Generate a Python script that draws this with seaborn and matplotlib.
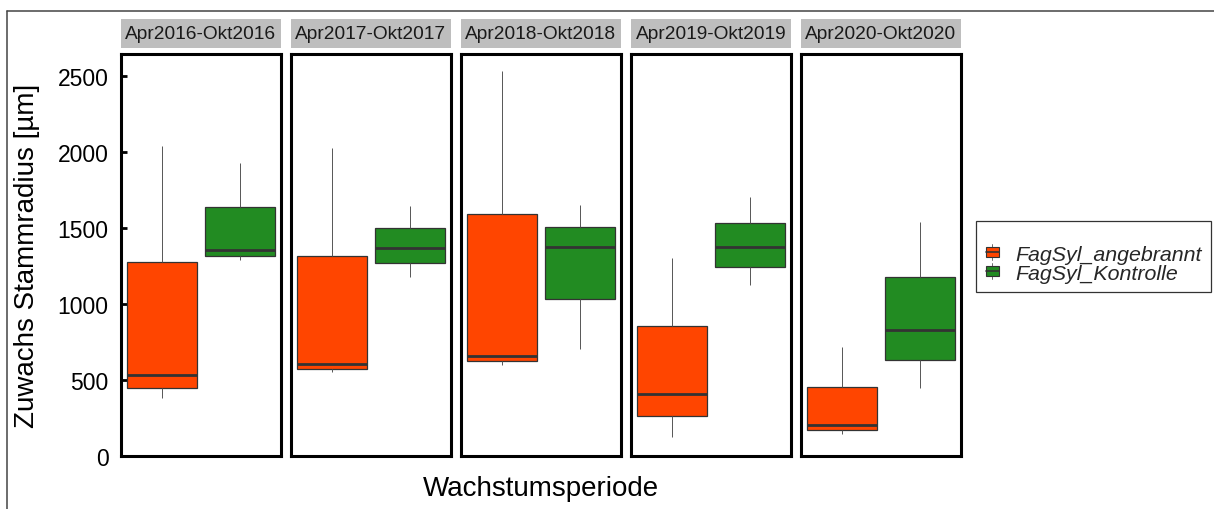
import numpy as np
import pandas as pd
import matplotlib
matplotlib.use("Agg")
import matplotlib.pyplot as plt
import seaborn as sns
from matplotlib.patches import Rectangle
from matplotlib.lines import Line2D
from matplotlib.legend_handler import HandlerBase

# ---- data (five-number summaries) ----
periods = ["Apr2016-Okt2016", "Apr2017-Okt2017", "Apr2018-Okt2018",
           "Apr2019-Okt2019", "Apr2020-Okt2020"]
groups = ["FagSyl_angebrannt", "FagSyl_Kontrolle"]
# [whisker low, Q1, median, Q3, whisker high]
angebrannt = [
    [377, 445, 529, 1276, 2035],
    [549, 572, 603, 1314, 2026],
    [597, 625, 656, 1592, 2533],
    [125, 259, 408, 851, 1303],
    [145, 167, 202, 450, 713],
]
kontrolle = [
    [1287, 1316, 1353, 1634, 1924],
    [1174, 1270, 1364, 1500, 1641],
    [702, 1031, 1371, 1507, 1647],
    [1121, 1241, 1371, 1533, 1700],
    [443, 632, 827, 1173, 1535],
]
yticks = [0, 500, 1000, 1500, 2000, 2500]
colors = {"FagSyl_angebrannt": "#FF4500", "FagSyl_Kontrolle": "#228B22"}

rows = []
for p, a, k in zip(periods, angebrannt, kontrolle):
    for v in a:
        rows.append((p, groups[0], v))
    for v in k:
        rows.append((p, groups[1], v))
df = pd.DataFrame(rows, columns=["period", "group", "value"])

sns.set_theme(style="white")
plt.rcParams["font.family"] = ["Liberation Sans", "DejaVu Sans"]

W, H = 1214, 510
fig = plt.figure(figsize=(W / 100, H / 100), dpi=100)

px_bottom, px_top = 456.7, 54.7
edge = "#333333"
axes = []
for i, p in enumerate(periods):
    left = 121 + 170 * i
    ax = fig.add_axes([left / W, (H - px_bottom) / H, 160 / W, (px_bottom - px_top) / H])
    sub = df[df["period"] == p]
    sns.boxplot(data=sub, x="period", y="value", hue="group", hue_order=groups,
                palette=colors, saturation=1, width=0.8, gap=0.1, whis=(0, 100),
                showcaps=False, showfliers=False, linecolor=edge, linewidth=0.9,
                medianprops={"linewidth": 2.0, "color": edge},
                whiskerprops={"linewidth": 0.7, "color": "#555555"},
                legend=False, ax=ax)
    ax.set_xlim(-0.41, 0.41)
    ax.set_ylim(0, 2645)
    ax.set_xlabel("")
    ax.set_ylabel("")
    ax.set_xticks([])
    for s in ax.spines.values():
        s.set_visible(True)
        s.set_color("black")
        s.set_linewidth(2.2)
    if i == 0:
        ax.set_yticks(yticks)
        ax.set_yticklabels([str(t) for t in yticks], fontsize=16.5, color="black")
        ax.tick_params(axis="y", direction="in", length=4, width=2, pad=9, left=True, color="black")
    else:
        ax.set_yticks([])
    # facet strip
    ax.add_patch(Rectangle((0, 1.0142), 1, 0.0721, transform=ax.transAxes,
                           facecolor="#BEBEBE", edgecolor="none", clip_on=False))
    ax.text(0.5, 1.050, p, transform=ax.transAxes, ha="center", va="center",
            fontsize=13.8, color="#1a1a1a")
    axes.append(ax)

fig.text(27 / W, 1 - 256 / H, "Zuwachs Stammradius [µm]", rotation=90,
         ha="center", va="center", fontsize=20, color="black")
fig.text(541 / W, 1 - 489 / H, "Wachstumsperiode", ha="center", va="center",
         fontsize=20, color="black")


class BoxHandler(HandlerBase):
    def create_artists(self, legend, orig_handle, xdescent, ydescent, width,
                       height, fontsize, trans):
        fc = orig_handle.get_facecolor()
        x0, y0 = -xdescent, -ydescent
        v = Line2D([x0 + width / 2] * 2, [y0 - height * 0.15, y0 + height * 1.15],
                   color="#555555", lw=0.6, transform=trans)
        r = Rectangle((x0, y0 + height * 0.1), width, height * 0.8, facecolor=fc,
                      edgecolor=edge, lw=0.8, transform=trans)
        m = Line2D([x0, x0 + width], [y0 + height / 2] * 2, color=edge, lw=1.2,
                   transform=trans)
        return [v, r, m]


handles = [Rectangle((0, 0), 1, 1, facecolor=colors[g]) for g in groups]
leg = fig.legend(handles, groups, handler_map={Rectangle: BoxHandler()},
                 loc="upper left", bbox_to_anchor=(976 / W, 1 - 222 / H),
                 prop={"style": "italic", "size": 15.4}, title=" ",
                 title_fontsize=10, frameon=True, fancybox=False,
                 handlelength=0.62, handleheight=0.55, handletextpad=0.75,
                 labelspacing=0.0, borderpad=0.45, borderaxespad=0)
leg.get_frame().set_edgecolor("black")
leg.get_frame().set_linewidth(0.9)

# screenshot frame lines
fig.add_artist(Line2D([6.5 / W, 6.5 / W], [0, 1 - 12 / H], transform=fig.transFigure,
                      color="#444444", lw=1.1))
fig.add_artist(Line2D([6.5 / W, 1], [1 - 12 / H, 1 - 12 / H], transform=fig.transFigure,
                      color="#444444", lw=1.1))

fig.savefig("out.png", dpi=100)
